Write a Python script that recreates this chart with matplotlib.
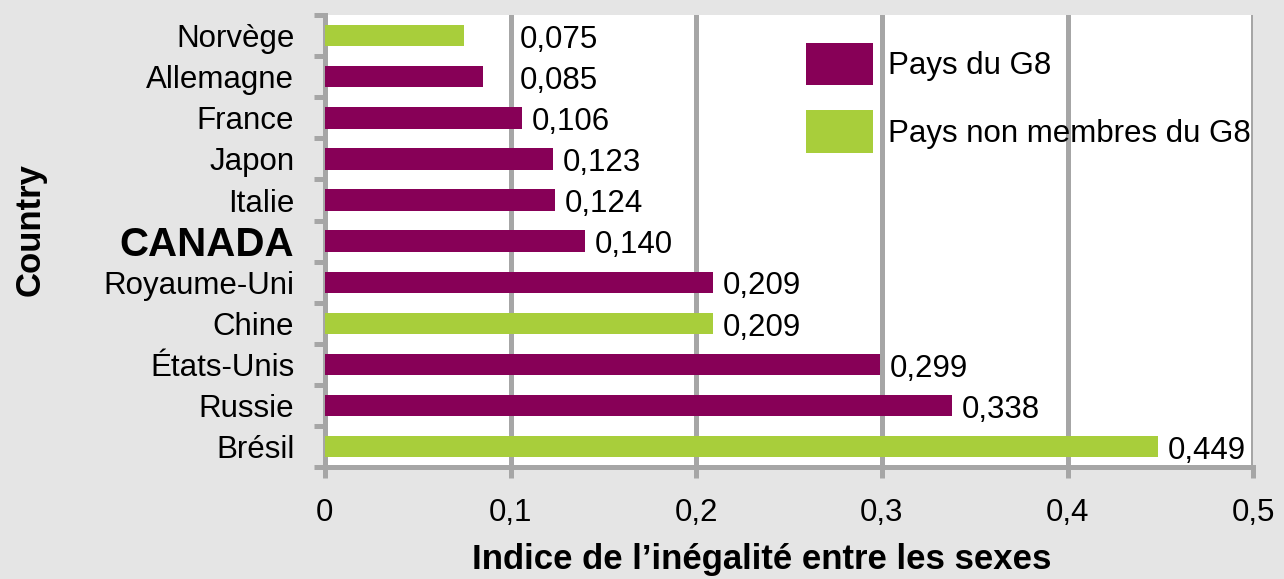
import matplotlib
matplotlib.use("Agg")
import matplotlib.pyplot as plt
from matplotlib.patches import Patch
import numpy as np

countries = ["Norvège", "Allemagne", "France", "Japon", "Italie", "CANADA",
             "Royaume-Uni", "Chine", "États-Unis", "Russie", "Brésil"]
values = [0.075, 0.085, 0.106, 0.123, 0.124, 0.140, 0.209, 0.209, 0.299, 0.338, 0.449]
is_g8 = [False, True, True, True, True, True, True, False, True, True, False]
legend_labels = ["Pays du G8", "Pays non membres du G8"]
xticks = [0, 0.1, 0.2, 0.3, 0.4, 0.5]
xtick_labels = ["0", "0,1", "0,2", "0,3", "0,4", "0,5"]

PURPLE = "#870057"
GREEN = "#a8ce3b"
GRID = "#a6a6a6"
BG = "#e5e5e5"
FS = 22.5

plt.rcParams['font.family'] = ['Liberation Sans', 'DejaVu Sans']

fig = plt.figure(figsize=(12.84, 5.79), dpi=100, facecolor=BG)
ax = fig.add_axes([0.253, 0.193, 0.723, 0.781])
ax.set_facecolor("white")

y = np.arange(len(countries))
colors = [PURPLE if g else GREEN for g in is_g8]
ax.barh(y, values, height=0.52, color=colors, zorder=3)

ax.set_xlim(0, 0.5)
ax.set_ylim(len(countries) - 0.5, -0.5)
ax.set_xticks(xticks)
ax.set_xticklabels(xtick_labels, fontsize=FS)
ax.xaxis.grid(True, color=GRID, linewidth=3.6, zorder=0)
ax.set_axisbelow(True)

for s in ["top", "right"]:
    ax.spines[s].set_visible(False)
for s in ["left", "bottom"]:
    ax.spines[s].set_color(GRID)
    ax.spines[s].set_linewidth(3.6)

ax.tick_params(axis="x", direction="out", length=8, width=3.6, color=GRID, pad=14)
ax.set_yticks(y)
ax.set_yticklabels(countries, fontsize=FS)
ax.tick_params(axis="y", which="major", length=0, pad=22)
ax.set_yticks(np.arange(-0.5, len(countries), 1), minor=True)
ax.tick_params(axis="y", which="minor", direction="out", length=8, width=3.6, color=GRID)
for lbl in ax.get_yticklabels():
    if lbl.get_text() == "CANADA":
        lbl.set_fontweight("bold")
        lbl.set_fontsize(29)

for yi, v in zip(y, values):
    xpos = 0.1 if v < 0.1 else v
    ax.annotate(f"{v:.3f}".replace(".", ","), xy=(xpos, yi), xytext=(7, -3),
                textcoords="offset points", ha="left", va="center", fontsize=FS, zorder=4)

ax.set_xlabel("Indice de l’inégalité entre les sexes", fontsize=25, fontweight="bold")
ax.xaxis.set_label_coords(0.471, -0.168)
fig.text(30 / 1284, 1 - 230 / 579, "Country", rotation=90, ha="center", va="center",
         fontsize=25, fontweight="bold")

handles = [Patch(facecolor=PURPLE), Patch(facecolor=GREEN)]
fig.legend(handles, legend_labels, loc="upper left",
           bbox_to_anchor=(806 / 1284, 1 - 43 / 579), frameon=False,
           fontsize=FS, handlelength=2.13, handleheight=1.71,
           labelspacing=0.8, handletextpad=0.48, borderpad=0, borderaxespad=0)

fig.savefig("out.png", dpi=100, facecolor=BG)
